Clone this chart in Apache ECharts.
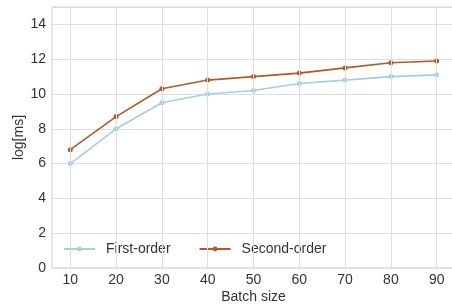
<!DOCTYPE html>
<html>
<head>
<meta charset="utf-8">
<script src="https://cdn.jsdelivr.net/npm/echarts@6/dist/echarts.min.js"></script>
<style>
  html, body { margin: 0; padding: 0; background: #fff; }
  #chart { width: 452px; height: 306px; }
</style>
</head>
<body>
<div id="chart"></div>
<script>
const batchSizes = [10, 20, 30, 40, 50, 60, 70, 80, 90];
const firstOrder = [6.0, 8.0, 9.5, 10.0, 10.2, 10.6, 10.8, 11.0, 11.1];
const secondOrder = [6.8, 8.7, 10.3, 10.8, 11.0, 11.2, 11.5, 11.8, 11.9];
const seriesNames = ['First-order', 'Second-order'];
const colors = ['#a6cee3', '#b15928'];

const font = 'Liberation Sans, Arial, sans-serif';
const myChart = echarts.init(document.getElementById('chart'));

function pairs(values) {
  return batchSizes.map((x, i) => [x, values[i]]);
}

function lineSeries(name, values, color) {
  return {
    name: name,
    type: 'line',
    data: pairs(values),
    symbol: 'circle',
    symbolSize: 5,
    lineStyle: { color: color, width: 1.6 },
    itemStyle: { color: color },
    animation: false
  };
}

const options = {
  animation: false,
  grid: {
    left: 52, right: -3, top: 7, bottom: 38,
    outerBoundsMode: 'none',
    containLabel: false,
    show: true, borderColor: '#cccccc', borderWidth: 1
  },
  legend: {
    left: 58, top: 237,
    itemWidth: 31, itemHeight: 6, itemGap: 28,
    textStyle: { fontFamily: font, fontSize: 14, color: '#333', padding: [0, 0, 0, 6] },
    data: seriesNames
  },
  xAxis: {
    type: 'value',
    min: 6, max: 94, interval: 10,
    name: 'Batch size',
    nameLocation: 'middle', nameGap: 22,
    nameMoveOverlap: false,
    nameTextStyle: { fontFamily: font, fontSize: 14, color: '#333' },
    axisLine: { show: false },
    axisTick: { show: false },
    axisLabel: {
      fontFamily: font, fontSize: 14, color: '#333', margin: 5,
      customValues: batchSizes
    },
    splitLine: { show: false }
  },
  yAxis: {
    type: 'value',
    min: 0, max: 15, interval: 2,
    name: 'log[ms]',
    nameLocation: 'middle', nameGap: 26,
    nameMoveOverlap: false,
    nameTextStyle: { fontFamily: font, fontSize: 14, color: '#333' },
    axisLine: { show: false },
    axisTick: { show: false },
    axisLabel: {
      fontFamily: font, fontSize: 14, color: '#333', margin: 6,
      showMaxLabel: false
    },
    splitLine: { lineStyle: { color: '#dddddd', width: 1 } }
  },
  series: [
    lineSeries(seriesNames[0], firstOrder, colors[0]),
    lineSeries(seriesNames[1], secondOrder, colors[1]),
    {
      type: 'line',
      data: [],
      silent: true,
      markLine: {
        silent: true,
        symbol: 'none',
        label: { show: false },
        lineStyle: { color: '#dddddd', width: 1, type: 'solid' },
        data: batchSizes.map(x => ({ xAxis: x }))
      }
    }
  ]
};

myChart.setOption(options);
</script>
</body>
</html>
